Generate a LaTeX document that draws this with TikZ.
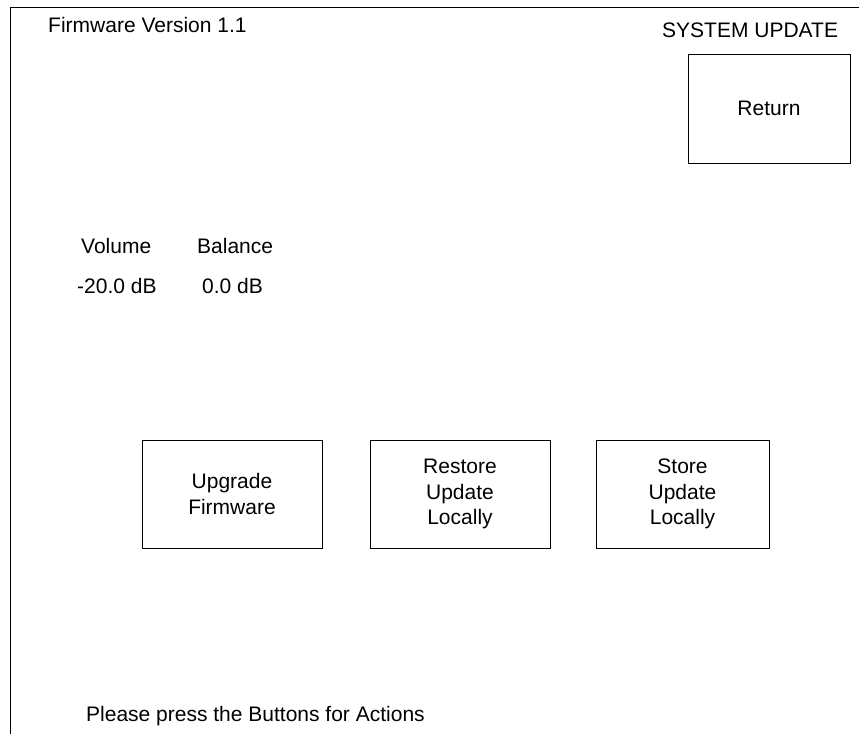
\documentclass[tikz,border=0pt]{standalone}
\usepackage{fontspec}
\setmainfont{Liberation Sans}
\begin{document}
\begin{tikzpicture}[x=1pt,y=-1pt,
  lbl/.style={anchor=base west,inner sep=0pt,font=\fontsize{21}{25.5}\selectfont},
  btn/.style={draw=black,line width=0.9pt,align=center,inner sep=0pt,font=\fontsize{21}{25.5}\selectfont},
  frame/.style={draw=black,line width=0.9pt}]
\useasboundingbox (0,0) rectangle (859,734);
\draw[frame] (10,734) -- (10,7) -- (859,7);
\node[lbl] (fw) at (48,32) {Firmware Version 1.1};
\node[lbl] (title) at (662,37) {SYSTEM UPDATE};
\node[btn,minimum width=162pt,minimum height=109pt] (ret) at (769,108.5) {Return};
\node[lbl] (vol) at (81,253) {Volume};
\node[lbl] (bal) at (197,253) {Balance};
\node[lbl] (volv) at (77,293) {-20.0 dB};
\node[lbl] (balv) at (202,293) {0.0 dB};
\node[btn,minimum width=180pt,minimum height=108pt] (up) at (232,494) {Upgrade\\Firmware};
\node[btn,minimum width=180pt,minimum height=108pt] (rest) at (460,494) {Restore\\Update\\Locally};
\node[btn,minimum width=173pt,minimum height=108pt] (store) at (682.5,494) {Store\\Update\\Locally};
\node[lbl] (msg) at (86,721) {Please press the Buttons for Actions};
\end{tikzpicture}
\end{document}
